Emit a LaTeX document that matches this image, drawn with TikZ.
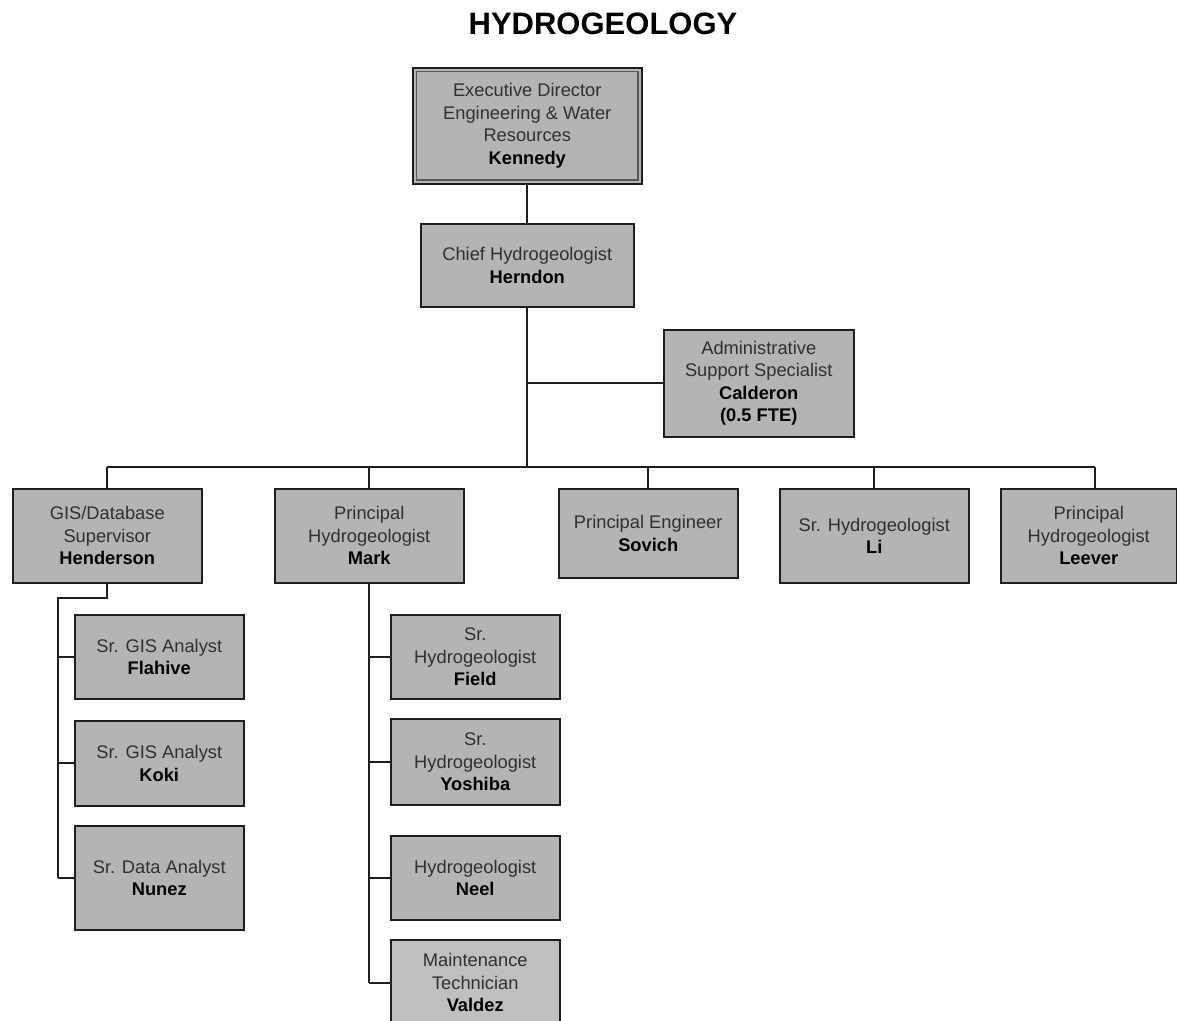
\documentclass[tikz,border=0pt]{standalone}
\usepackage{fontspec}
\setmainfont{Liberation Sans}
\usetikzlibrary{positioning,calc}
\definecolor{boxfill}{HTML}{B4B4B4}
\definecolor{boxfilllight}{HTML}{BFBFBF}
\definecolor{linecol}{HTML}{1E1E1E}
\definecolor{txtcol}{HTML}{303030}
\newcommand{\nm}[1]{\textbf{\color{black}#1}}
\begin{document}
\begin{tikzpicture}[x=1pt,y=-1pt,
  orgbox/.style={draw=linecol, line width=1.5pt, fill=boxfill, anchor=north west,
    inner sep=0pt, align=center, text=txtcol,
    font=\fontsize{18.3}{22.5}\selectfont},
  link/.style={draw=linecol, line width=1.8pt}]
% page frame (also trims the boxes running off the edges)
\clip (0,0) rectangle (1177,1020);
\fill[white] (0,0) rectangle (1177,1020);

% heading
\node[anchor=base, font=\fontsize{31}{36}\selectfont\bfseries, inner sep=0pt] (title) at (603,34) {HYDROGEOLOGY};

% top levels
\node[orgbox, minimum width=229pt, minimum height=116pt] (exec) at (412,67)
  {Executive Director\\Engineering \& Water\\Resources\\\nm{Kennedy}};
\draw[draw=linecol!75, line width=1.8pt]
  ([shift={(4.5pt,-4.5pt)}]exec.north west) rectangle ([shift={(-4.5pt,4.5pt)}]exec.south east);
\node[orgbox, minimum width=213pt, minimum height=83pt] (herndon) at (420,223)
  {Chief Hydrogeologist\\\nm{Herndon}};
\node[orgbox, minimum width=190pt, minimum height=107pt] (calderon) at (663,329)
  {Administrative\\Support Specialist\\\nm{Calderon}\\\nm{(0.5 FTE)}};

% second row
\node[orgbox, minimum width=189pt, minimum height=94pt] (henderson) at (12,488)
  {GIS/Database\\Supervisor\\\nm{Henderson}};
\node[orgbox, minimum width=189pt, minimum height=94pt] (mark) at (274,488)
  {Principal\\Hydrogeologist\\\nm{Mark}};
\node[orgbox, minimum width=179pt, minimum height=89pt] (sovich) at (558,488)
  {Principal Engineer\\\nm{Sovich}};
\node[orgbox, minimum width=189pt, minimum height=94pt] (li) at (779,488)
  {Sr. Hydrogeologist\\\nm{Li}};
\node[orgbox, minimum width=176pt, minimum height=94pt] (leever) at (1000,488)
  {Principal\\Hydrogeologist\\\nm{Leever}};

% GIS group
\node[orgbox, minimum width=169pt, minimum height=84pt] (flahive) at (74,614)
  {Sr. GIS Analyst\\\nm{Flahive}};
\node[orgbox, minimum width=169pt, minimum height=85pt] (koki) at (74,720)
  {Sr. GIS Analyst\\\nm{Koki}};
\node[orgbox, minimum width=169pt, minimum height=104pt] (nunez) at (74,825)
  {Sr. Data Analyst\\\nm{Nunez}};

% hydrogeology group
\node[orgbox, minimum width=169pt, minimum height=84pt] (field) at (390,614)
  {Sr.\\Hydrogeologist\\\nm{Field}};
\node[orgbox, minimum width=169pt, minimum height=86pt] (yoshiba) at (390,718)
  {Sr.\\Hydrogeologist\\\nm{Yoshiba}};
\node[orgbox, minimum width=169pt, minimum height=84pt] (neel) at (390,835)
  {Hydrogeologist\\\nm{Neel}};
\node[orgbox, fill=boxfilllight, minimum width=169pt, minimum height=86pt] (valdez) at (390,939)
  {Maintenance\\Technician\\\nm{Valdez}};

% connectors
\coordinate (bus) at (herndon.south |- {(0,467)});
\coordinate (gisspine) at (58,598);
\draw[link] (exec.south) -- (herndon.north);
\draw[link] (herndon.south) -- (bus);
\draw[link] (herndon.south |- calderon.west) -- (calderon.west);
\draw[link] (henderson.north |- bus) -- ([xshift=6pt]leever.north |- bus);
\foreach \n in {henderson,mark,sovich,li}
  \draw[link] (\n.north |- bus) -- (\n.north);
\draw[link] ([xshift=6pt]leever.north |- bus) -- ([xshift=6pt]leever.north);

\draw[link] (henderson.south) |- (gisspine) -- (gisspine |- nunez.west);
\foreach \n in {flahive,koki,nunez}
  \draw[link] (gisspine |- \n.west) -- (\n.west);

\draw[link] (mark.south) -- (mark.south |- valdez.west);
\foreach \n in {field,yoshiba,neel,valdez}
  \draw[link] (mark.south |- \n.west) -- (\n.west);
\end{tikzpicture}
\end{document}
